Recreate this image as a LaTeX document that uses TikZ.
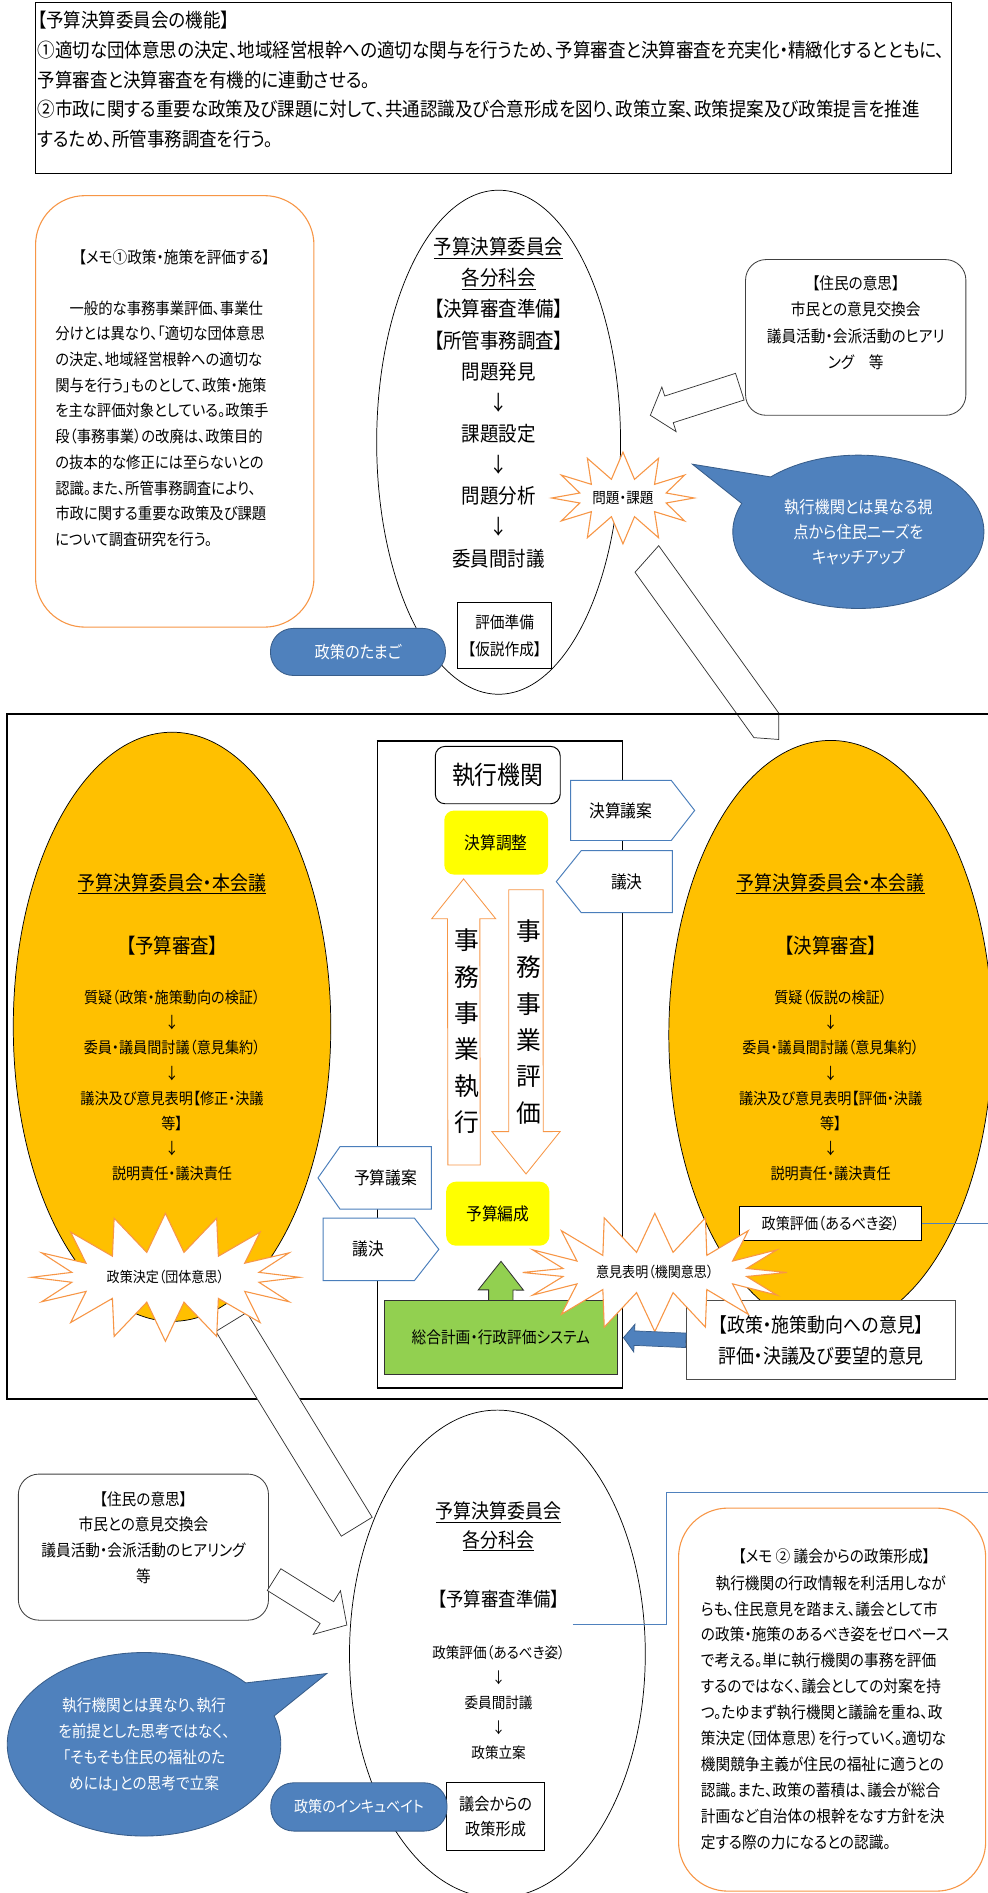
\documentclass[tikz,border=0pt]{standalone}
\usepackage{fontspec}
\setmainfont{Noto Sans CJK JP}[FakeStretch=0.9,RawFeature=+palt]
\newfontfamily\jpwide{Noto Sans CJK JP}
\usetikzlibrary{calc,shapes.geometric,shapes.symbols,shapes.callouts}

\definecolor{memoorange}{HTML}{F79646}
\definecolor{calloutblue}{HTML}{4F81BD}
\definecolor{blueedge}{HTML}{385D8A}
\definecolor{councilgold}{HTML}{FFC000}
\definecolor{planyellow}{HTML}{FFFF00}
\definecolor{systemgreen}{HTML}{92D050}
\definecolor{signalblue}{HTML}{4A7EBB}

\newcommand\jfs[2]{\fontsize{#1}{#2}\selectfont}
% block arrow: from, to, shaft half width, head half width, head length
\newcommand\fatarrow[6][]{%
  \coordinate (fatbase) at ($(#3)!#6!(#2)$);
  \draw[#1] ($(#2)!#4!90:(#3)$) -- ($(fatbase)!#4!-90:(#2)$) -- ($(fatbase)!#5!-90:(#2)$) -- (#3)
    -- ($(fatbase)!#5!90:(#2)$) -- ($(fatbase)!#4!90:(#2)$) -- ($(#2)!#4!-90:(#3)$) -- cycle;}
% pentagon labels: name, body x1, y1, x2, y2, tip x, text
\newcommand\sigright[7]{%
  \draw[sigline] (#2,#3) -- (#4,#3) -- (#6,{(#3+#5)/2}) -- (#4,#5) -- (#2,#5) -- cycle;
  \node[sigtext] (#1) at ({(#2+#4)/2},{(#3+#5)/2}) {#7};}
\newcommand\sigleft[7]{%
  \draw[sigline] (#2,#3) -- (#4,#3) -- (#4,#5) -- (#2,#5) -- (#6,{(#3+#5)/2}) -- cycle;
  \node[sigtext] (#1) at ({(#2+#4)/2},{(#3+#5)/2}) {#7};}

\tikzset{
  memo/.style={draw=memoorange,line width=0.9pt,rounded corners=41pt,fill=white,inner sep=0pt},
  citizen/.style={draw=black!75,line width=0.7pt,rounded corners=17pt,fill=white,inner sep=0pt},
  council/.style={ellipse,draw,fill=councilgold,line width=0.6pt,inner sep=0pt},
  committee/.style={ellipse,draw,fill=white,line width=0.6pt,inner sep=0pt},
  burst/.style={starburst,draw=memoorange,fill=white,line width=0.9pt,inner sep=0pt,random starburst=0},
  speech/.style={ellipse callout,fill=calloutblue,draw=blueedge,text=white,align=center,
    line width=0.7pt,inner sep=0pt,callout pointer arc=24},
  pill/.style={rounded corners=19pt,fill=calloutblue,draw=blueedge,text=white,line width=0.7pt},
  plainbox/.style={draw,fill=white,align=center,line width=0.6pt,inner sep=0pt},
  planbox/.style={fill=planyellow,rounded corners=8pt,inner sep=0pt,font=\jfs{14.5}{17}},
  hollow/.style={draw=memoorange,fill=white,line width=0.7pt},
  hollowgray/.style={draw=black!80,fill=white,line width=0.6pt},
  sigline/.style={draw=signalblue,fill=white,line width=0.8pt},
  sigtext/.style={font=\jfs{14.5}{17},inner sep=0pt},
  lineblue/.style={draw=calloutblue,line width=0.7pt},
}

\begin{document}
\begin{tikzpicture}[x=1pt,y=-1pt]
  \useasboundingbox (0,0) rectangle (818,1568);
  %% duties of the committee
  \node[draw,line width=0.7pt,minimum width=758.8pt,minimum height=141.6pt,anchor=north west,inner sep=0pt] (duty) at (28.7,1.4) {};
  \node[anchor=west,align=left,font=\jfs{16.1}{24.5},inner sep=0pt] (dutytext) at (31,66)
    {【予算決算委員会の機能】\\①適切な団体意思の決定、地域経営根幹への適切な関与を行うため、予算審査と決算審査を充実化・精緻化するとともに、\\予算審査と決算審査を有機的に連動させる。\\②市政に関する重要な政策及び課題に対して、共通認識及び合意形成を図り、政策立案、政策提案及び政策提言を推進\\するため、所管事務調査を行う。};

  %% memo 1
  \node[memo,minimum width=230.6pt,minimum height=357.4pt,anchor=north west] (memoA) at (29,161.6) {};
  \node[font=\jfs{13.5}{16}] (memoAtitle) at (144.3,213) {【メモ①政策・施策を評価する】};
  \node[anchor=west,align=left,font=\jfs{13.2}{21.3},inner sep=0pt] (memoAtext) at (45.6,351)
    {　一般的な事務事業評価、事業仕\\分けとは異なり、「適切な団体意思\\の決定、地域経営根幹への適切な\\関与を行う」ものとして、政策・施策\\を主な評価対象としている。政策手\\段（事務事業）の改廃は、政策目的\\の抜本的な修正には至らないとの\\認識。また、所管事務調査により、\\市政に関する重要な政策及び課題\\について調査研究を行う。};

  %% subcommittee (settlement)
  \node[committee,minimum width=202pt,minimum height=417.5pt] (settle) at (413,366.3) {};
  \node[align=center,font=\jfs{17}{25.8}] (settletext) at (413,333.5)
    {\underline{予算決算委員会}\\\underline{各分科会}\\【決算審査準備】\\【所管事務調査】\\問題発見\\↓\\課題設定\\↓\\問題分析\\↓\\委員間討議};
  \node[plainbox,minimum width=78pt,minimum height=55pt,font=\jfs{13.5}{22}] (hypo) at (418,526.5) {評価準備\\【仮説作成】};
  \node[pill,minimum width=145pt,minimum height=39pt,font=\jfs{14}{16}] (egg) at (296.5,540) {政策のたまご};

  %% citizens (top)
  \node[citizen,minimum width=182.5pt,minimum height=129pt] (voiceA) at (708.8,279.5) {};
  \node[align=center,font=\jfs{13.5}{21.8}] (voiceAtext) at (708.8,267.3) {【住民の意思】\\市民との意見交換会\\議員活動・会派活動のヒアリ\\ング　等};
  \coordinate (vA1) at (612.8,320.3);
  \coordinate (vA2) at (538.7,344);
  \fatarrow[hollowgray]{vA1}{vA2}{11.6pt}{19.4pt}{16.2pt}
  \draw[hollowgray] (526,474) -- (624.5,611) -- (645,612.5) -- (645,590.6) -- (545.6,452) -- cycle;
  \node[burst,minimum width=118pt,minimum height=76pt,starburst points=12,starburst point height=22pt,font=\jfs{12.5}{14}] (issue) at (516,412.5) {問題・課題};
  \node[speech,minimum width=208pt,minimum height=127pt,callout absolute pointer={(573.5,384.5)},font=\jfs{14}{20.8}] (viewA) at (711,440.5)
    {執行機関とは異なる視\\点から住民ニーズを\\キャッチアップ};

  %% frame
  \draw[line width=1.8pt] (830,591.5) -| (6,1159) -- (830,1159);

  %% executive body
  \node[draw,line width=0.8pt,minimum width=203pt,minimum height=535pt,anchor=north west,inner sep=0pt] (exec) at (312,614) {};
  \draw[line width=1.6pt] (exec.north west) -- (exec.north east);
  \draw[line width=1.6pt] (exec.south west) -- (exec.south east);
  \node[draw,rounded corners=8pt,line width=0.8pt,minimum width=103.5pt,minimum height=47.5pt,font=\jfs{21}{24}] (execname) at (412.3,642) {執行機関};
  \node[planbox,minimum width=86pt,minimum height=53pt] (settleadj) at (411,697.9) {決算調整};
  \coordinate (runA) at (384.4,965);
  \coordinate (runB) at (384,728);
  \fatarrow[hollow]{runA}{runB}{13.4pt}{26.5pt}{33pt}
  \node[align=center,font=\jpwide\jfs{20.5}{30.1}] (runtext) at (386.8,854.3) {事\\務\\事\\業\\執\\行};
  \coordinate (evalA) at (435.6,737);
  \coordinate (evalB) at (435.7,972.4);
  \fatarrow[hollow]{evalA}{evalB}{14.25pt}{28.25pt}{35.1pt}
  \node[align=center,font=\jpwide\jfs{20.5}{30.2}] (evaltext) at (437.9,846.4) {事\\務\\事\\業\\評\\価};
  \node[planbox,minimum width=85.4pt,minimum height=53pt] (budgetmake) at (412.3,1005.3) {予算編成};
  \coordinate (sysA) at (414.8,1077.4);
  \coordinate (sysB) at (415,1044.8);
  \fatarrow[draw=black!80,fill=systemgreen,line width=0.7pt]{sysA}{sysB}{10.1pt}{18.7pt}{23.7pt}
  \node[draw=black!80,fill=systemgreen,line width=0.8pt,minimum width=192.5pt,minimum height=61.3pt,font=\jfs{13.5}{16}] (system) at (414.8,1108) {総合計画・行政評価システム};

  %% budget review
  \node[council,minimum width=263pt,minimum height=488pt] (budgetcouncil) at (142.5,850.5) {};
  \node[font=\jfs{16.5}{19}] (bctitle) at (142.5,732) {\underline{予算決算委員会・本会議}};
  \node[font=\jfs{17}{19}] (bchead) at (142.5,783) {【予算審査】};
  \node[align=center,font=\jfs{13}{20.9}] (bcsteps) at (142.5,899.2)
    {質疑（政策・施策動向の検証）\\↓\\委員・議員間討議（意見集約）\\↓\\議決及び意見表明【修正・決議\\等】\\↓\\説明責任・議決責任};

  %% settlement review
  \node[council,minimum width=268pt,minimum height=488pt] (settlecouncil) at (688,857.3) {};
  \node[font=\jfs{16.5}{19}] (sctitle) at (688,732) {\underline{予算決算委員会・本会議}};
  \node[font=\jfs{17}{19}] (schead) at (688,783) {【決算審査】};
  \node[align=center,font=\jfs{13}{20.9}] (scsteps) at (688,899.2)
    {質疑（仮説の検証）\\↓\\委員・議員間討議（意見集約）\\↓\\議決及び意見表明【評価・決議\\等】\\↓\\説明責任・議決責任};
  \node[plainbox,minimum width=151pt,minimum height=28.2pt,font=\jfs{13}{15}] (evalgoal) at (688,1013.6) {政策評価（あるべき姿）};
  \coordinate (edgeA) at (818,1013.6);
  \draw[lineblue] (evalgoal.east) -- (edgeA);

  %% bills and decisions
  \sigright{billA}{472.7}{646.4}{556}{696.2}{575.4}{決算議案}
  \sigleft{voteA}{481.5}{704.5}{557}{756}{460.8}{議決}
  \sigleft{billB}{281.6}{949.8}{357.3}{1001.5}{263.4}{予算議案}
  \sigright{voteB}{267.6}{1008.9}{343.2}{1060.8}{363.5}{議決}

  %% long arrow to the bottom subcommittee
  \coordinate (declA) at (191.6,1095);
  \coordinate (declB) at (295.5,1264.6);
  \draw[hollowgray] ($(declA)!15pt!90:(declB)$) -- ($(declB)!15pt!-90:(declA)$) -- ($(declB)!15pt!90:(declA)$) -- ($(declA)!15pt!-90:(declB)$) -- cycle;
  \node[burst,minimum width=222pt,minimum height=106pt,starburst points=16,starburst point height=32pt,font=\jfs{12}{14}] (decision) at (137,1058) {政策決定（団体意思）};

  \node[draw=black!70,fill=white,line width=0.8pt,minimum width=223.2pt,minimum height=65.6pt,align=center,font=\jfs{16.5}{26.2}] (opinion) at (680.1,1110.2)
    {【政策・施策動向への意見】\\評価・決議及び要望的意見};
  \node[burst,minimum width=219pt,minimum height=98pt,starburst points=16,starburst point height=32pt,font=\jfs{12}{14}] (statement) at (542.4,1054) {意見表明（機関意思）};
  \coordinate (opA) at (opinion.west);
  \coordinate (opB) at ([xshift=5pt]system.east);
  \fatarrow[draw=blueedge,fill=calloutblue,line width=0.6pt]{opA}{opB}{6pt}{11.5pt}{9pt}

  %% subcommittee (budget)
  \node[committee,minimum width=245pt,minimum height=404pt] (prep) at (412,1370) {};
  \node[align=center,font=\jfs{16.5}{23.5}] (preptitle) at (413,1264.5) {\underline{予算決算委員会}\\\underline{各分科会}};
  \node[font=\jfs{16}{19}] (prephead) at (413,1324.6) {【予算審査準備】};
  \node[align=center,font=\jfs{12.5}{20.7}] (prepsteps) at (413,1410.3) {政策評価（あるべき姿）\\↓\\委員間討議\\↓\\政策立案};
  \node[plainbox,minimum width=81pt,minimum height=56pt,font=\jfs{14}{21}] (council) at (410.5,1504.6) {議会からの\\政策形成};
  \node[pill,minimum width=146pt,minimum height=40pt,font=\jfs{13}{16}] (incubate) at (297.3,1496.7) {政策のインキュベイト};

  %% citizens (bottom)
  \node[citizen,minimum width=207.2pt,minimum height=121pt] (voiceB) at (118.8,1281.5) {};
  \node[align=center,font=\jfs{13.5}{21.2}] (voiceBtext) at (118.8,1273.5) {【住民の意思】\\市民との意見交換会\\議員活動・会派活動のヒアリング\\等};
  \coordinate (vB1) at (227,1308.4);
  \coordinate (vB2) at (287.3,1346);
  \fatarrow[hollowgray]{vB1}{vB2}{10.6pt}{21.3pt}{19.5pt}
  \node[speech,minimum width=226.6pt,minimum height=152pt,callout absolute pointer={(270.7,1386.2)},font=\jfs{13.5}{21.5}] (viewB) at (119.3,1444.8)
    {執行機関とは異なり、執行\\を前提とした思考ではなく、\\「そもそも住民の福祉のた\\めには」との思考で立案};

  %% memo 2
  \coordinate (linkB) at (474.6,1345.4);
  \coordinate (bendB) at (552,1236.3);
  \coordinate (edgeB) at (818,1236.3);
  \draw[lineblue] (linkB) -| (bendB) -- (edgeB);
  \node[memo,minimum width=254.4pt,minimum height=317.3pt,anchor=north west] (memoB) at (561.6,1248.7) {};
  \node[font=\jfs{13.5}{16}] (memoBtitle) at (691,1288.8) {【メモ ② 議会からの政策形成】};
  \node[anchor=west,align=left,font=\jfs{13.5}{21.5},inner sep=0pt] (memoBtext) at (580.4,1418.6)
    {　執行機関の行政情報を利活用しなが\\らも、住民意見を踏まえ、議会として市\\の政策・施策のあるべき姿をゼロベース\\で考える。単に執行機関の事務を評価\\するのではなく、議会としての対案を持\\つ。たゆまず執行機関と議論を重ね、政\\策決定（団体意思）を行っていく。適切な\\機関競争主義が住民の福祉に適うとの\\認識。また、政策の蓄積は、議会が総合\\計画など自治体の根幹をなす方針を決\\定する際の力になるとの認識。};
\end{tikzpicture}
\end{document}
